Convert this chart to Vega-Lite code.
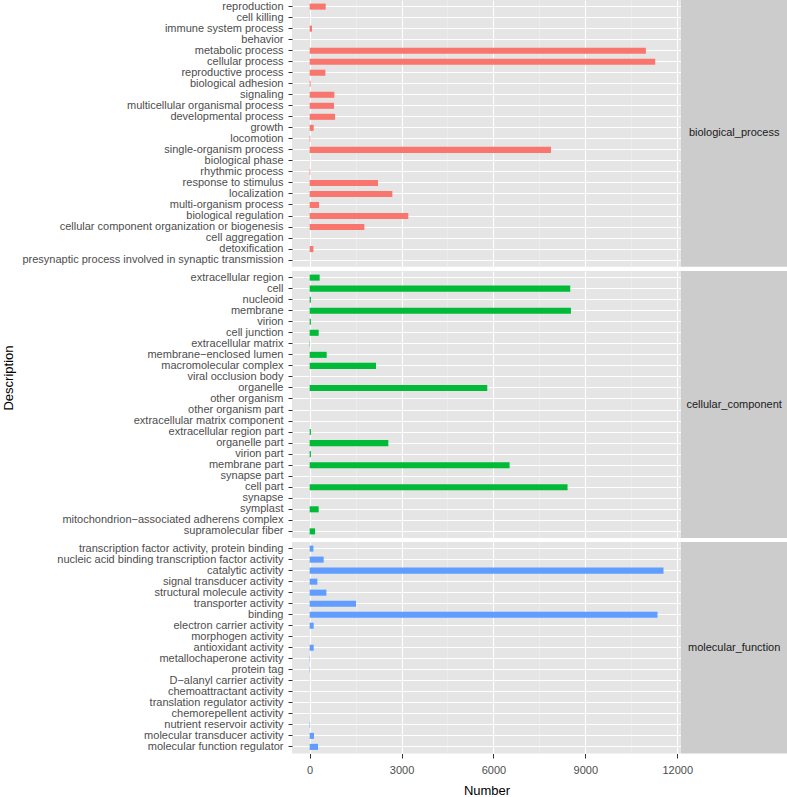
{
  "$schema": "https://vega.github.io/schema/vega-lite/v6.json",
  "padding": {"left": 2, "top": 0, "right": 0, "bottom": 0},
  "autosize": {"type": "pad"},
  "background": "white",
  "config": {
    "font": "Liberation Sans",
    "view": {"stroke": null, "fill": "#E5E5E5"},
    "axis": {"domain": false, "labelFontSize": 11, "labelLimit": 600, "labelColor": "#4D4D4D", "tickColor": "#333333", "titleFontSize": 13, "titleFontWeight": "normal", "titleColor": "#000000"},
    "concat": {"spacing": 0}
  },
  "data": {"values": [
    {"Category": "biological_process", "Description": "reproduction", "Number": 523},
    {"Category": "biological_process", "Description": "cell killing", "Number": 3},
    {"Category": "biological_process", "Description": "immune system process", "Number": 77},
    {"Category": "biological_process", "Description": "behavior", "Number": 2},
    {"Category": "biological_process", "Description": "metabolic process", "Number": 10978},
    {"Category": "biological_process", "Description": "cellular process", "Number": 11282},
    {"Category": "biological_process", "Description": "reproductive process", "Number": 512},
    {"Category": "biological_process", "Description": "biological adhesion", "Number": 30},
    {"Category": "biological_process", "Description": "signaling", "Number": 806},
    {"Category": "biological_process", "Description": "multicellular organismal process", "Number": 795},
    {"Category": "biological_process", "Description": "developmental process", "Number": 828},
    {"Category": "biological_process", "Description": "growth", "Number": 131},
    {"Category": "biological_process", "Description": "locomotion", "Number": 20},
    {"Category": "biological_process", "Description": "single-organism process", "Number": 7878},
    {"Category": "biological_process", "Description": "biological phase", "Number": 1},
    {"Category": "biological_process", "Description": "rhythmic process", "Number": 20},
    {"Category": "biological_process", "Description": "response to stimulus", "Number": 2232},
    {"Category": "biological_process", "Description": "localization", "Number": 2699},
    {"Category": "biological_process", "Description": "multi-organism process", "Number": 306},
    {"Category": "biological_process", "Description": "biological regulation", "Number": 3221},
    {"Category": "biological_process", "Description": "cellular component organization or biogenesis", "Number": 1785},
    {"Category": "biological_process", "Description": "cell aggregation", "Number": 1},
    {"Category": "biological_process", "Description": "detoxification", "Number": 121},
    {"Category": "biological_process", "Description": "presynaptic process involved in synaptic transmission", "Number": 1},
    {"Category": "cellular_component", "Description": "extracellular region", "Number": 326},
    {"Category": "cellular_component", "Description": "cell", "Number": 8508},
    {"Category": "cellular_component", "Description": "nucleoid", "Number": 40},
    {"Category": "cellular_component", "Description": "membrane", "Number": 8530},
    {"Category": "cellular_component", "Description": "virion", "Number": 40},
    {"Category": "cellular_component", "Description": "cell junction", "Number": 294},
    {"Category": "cellular_component", "Description": "extracellular matrix", "Number": 10},
    {"Category": "cellular_component", "Description": "membrane−enclosed lumen", "Number": 555},
    {"Category": "cellular_component", "Description": "macromolecular complex", "Number": 2166},
    {"Category": "cellular_component", "Description": "viral occlusion body", "Number": 1},
    {"Category": "cellular_component", "Description": "organelle", "Number": 5799},
    {"Category": "cellular_component", "Description": "other organism", "Number": 1},
    {"Category": "cellular_component", "Description": "other organism part", "Number": 1},
    {"Category": "cellular_component", "Description": "extracellular matrix component", "Number": 1},
    {"Category": "cellular_component", "Description": "extracellular region part", "Number": 40},
    {"Category": "cellular_component", "Description": "organelle part", "Number": 2568},
    {"Category": "cellular_component", "Description": "virion part", "Number": 40},
    {"Category": "cellular_component", "Description": "membrane part", "Number": 6527},
    {"Category": "cellular_component", "Description": "synapse part", "Number": 1},
    {"Category": "cellular_component", "Description": "cell part", "Number": 8420},
    {"Category": "cellular_component", "Description": "synapse", "Number": 1},
    {"Category": "cellular_component", "Description": "symplast", "Number": 294},
    {"Category": "cellular_component", "Description": "mitochondrion−associated adherens complex", "Number": 1},
    {"Category": "cellular_component", "Description": "supramolecular fiber", "Number": 176},
    {"Category": "molecular_function", "Description": "transcription factor activity, protein binding", "Number": 121},
    {"Category": "molecular_function", "Description": "nucleic acid binding transcription factor activity", "Number": 457},
    {"Category": "molecular_function", "Description": "catalytic activity", "Number": 11553},
    {"Category": "molecular_function", "Description": "signal transducer activity", "Number": 251},
    {"Category": "molecular_function", "Description": "structural molecule activity", "Number": 545},
    {"Category": "molecular_function", "Description": "transporter activity", "Number": 1514},
    {"Category": "molecular_function", "Description": "binding", "Number": 11357},
    {"Category": "molecular_function", "Description": "electron carrier activity", "Number": 131},
    {"Category": "molecular_function", "Description": "morphogen activity", "Number": 1},
    {"Category": "molecular_function", "Description": "antioxidant activity", "Number": 131},
    {"Category": "molecular_function", "Description": "metallochaperone activity", "Number": 10},
    {"Category": "molecular_function", "Description": "protein tag", "Number": 10},
    {"Category": "molecular_function", "Description": "D−alanyl carrier activity", "Number": 1},
    {"Category": "molecular_function", "Description": "chemoattractant activity", "Number": 1},
    {"Category": "molecular_function", "Description": "translation regulator activity", "Number": 1},
    {"Category": "molecular_function", "Description": "chemorepellent activity", "Number": 1},
    {"Category": "molecular_function", "Description": "nutrient reservoir activity", "Number": 15},
    {"Category": "molecular_function", "Description": "molecular transducer activity", "Number": 142},
    {"Category": "molecular_function", "Description": "molecular function regulator", "Number": 273}
  ]},
  "columns": 2,
  "bounds": "flush",
  "spacing": {"row": 4, "column": 0},
  "concat": [
    {
      "width": 389, "height": 266.7,
      "transform": [{"filter": "datum.Category === 'biological_process'"}],
      "mark": {"type": "bar"},
      "encoding": {
        "y": {"field": "Description", "type": "nominal", "sort": null,
          "scale": {"paddingInner": 0.45, "paddingOuter": 0.325},
          "axis": {"title": "Description", "titleX": -276.7, "titleY": 377.5, "tickSize": 4, "labelPadding": 5, "grid": true, "gridColor": "#FFFFFF", "gridWidth": 1.1}},
        "x": {"field": "Number", "type": "quantitative",
          "scale": {"domain": [-577, 12124], "nice": false},
          "axis": {"title": null, "labels": false, "ticks": false,
            "values": [0, 1500, 3000, 4500, 6000, 7500, 9000, 10500, 12000],
            "grid": true,
            "gridColor": {"condition": {"test": "datum.value % 3000 === 0", "value": "#FFFFFF"}, "value": "#F2F2F2"},
            "gridWidth": {"condition": {"test": "datum.value % 3000 === 0", "value": 1.1}, "value": 0.5}}},
        "color": {"field": "Category", "type": "nominal", "legend": null,
          "scale": {"domain": ["biological_process", "cellular_component", "molecular_function"], "range": ["#F8766D", "#00BA38", "#619CFF"]}}
      }
    },
    {
      "width": 106.3, "height": 266.7,
      "view": {"fill": "#CCCCCC", "stroke": null},
      "transform": [{"filter": "datum.Category === 'biological_process'"}, {"aggregate": [{"op": "count", "as": "n"}], "groupby": ["Category"]}],
      "mark": {"type": "text", "fontSize": 11, "color": "#1A1A1A"},
      "encoding": {"text": {"field": "Category", "type": "nominal"}}
    },
    {
      "width": 389, "height": 267,
      "transform": [{"filter": "datum.Category === 'cellular_component'"}],
      "mark": {"type": "bar"},
      "encoding": {
        "y": {"field": "Description", "type": "nominal", "sort": null,
          "scale": {"paddingInner": 0.45, "paddingOuter": 0.325},
          "axis": {"title": null, "tickSize": 4, "labelPadding": 5, "grid": true, "gridColor": "#FFFFFF", "gridWidth": 1.1}},
        "x": {"field": "Number", "type": "quantitative",
          "scale": {"domain": [-577, 12124], "nice": false},
          "axis": {"title": null, "labels": false, "ticks": false,
            "values": [0, 1500, 3000, 4500, 6000, 7500, 9000, 10500, 12000],
            "grid": true,
            "gridColor": {"condition": {"test": "datum.value % 3000 === 0", "value": "#FFFFFF"}, "value": "#F2F2F2"},
            "gridWidth": {"condition": {"test": "datum.value % 3000 === 0", "value": 1.1}, "value": 0.5}}},
        "color": {"field": "Category", "type": "nominal", "legend": null,
          "scale": {"domain": ["biological_process", "cellular_component", "molecular_function"], "range": ["#F8766D", "#00BA38", "#619CFF"]}}
      }
    },
    {
      "width": 106.3, "height": 267,
      "view": {"fill": "#CCCCCC", "stroke": null},
      "transform": [{"filter": "datum.Category === 'cellular_component'"}, {"aggregate": [{"op": "count", "as": "n"}], "groupby": ["Category"]}],
      "mark": {"type": "text", "fontSize": 11, "color": "#1A1A1A"},
      "encoding": {"text": {"field": "Category", "type": "nominal"}}
    },
    {
      "width": 389, "height": 211.5,
      "transform": [{"filter": "datum.Category === 'molecular_function'"}],
      "mark": {"type": "bar"},
      "encoding": {
        "y": {"field": "Description", "type": "nominal", "sort": null,
          "scale": {"paddingInner": 0.45, "paddingOuter": 0.325},
          "axis": {"title": null, "tickSize": 4, "labelPadding": 5, "grid": true, "gridColor": "#FFFFFF", "gridWidth": 1.1}},
        "x": {"field": "Number", "type": "quantitative",
          "scale": {"domain": [-577, 12124], "nice": false},
          "axis": {"title": "Number", "format": "d", "tickSize": 4.5, "labelPadding": 6, "titlePadding": 9,
            "values": [0, 1500, 3000, 4500, 6000, 7500, 9000, 10500, 12000],
            "labelExpr": "datum.value % 3000 === 0 ? datum.label : ''",
            "tickOpacity": {"condition": {"test": "datum.value % 3000 === 0", "value": 1}, "value": 0},
            "grid": true,
            "gridColor": {"condition": {"test": "datum.value % 3000 === 0", "value": "#FFFFFF"}, "value": "#F2F2F2"},
            "gridWidth": {"condition": {"test": "datum.value % 3000 === 0", "value": 1.1}, "value": 0.5}}},
        "color": {"field": "Category", "type": "nominal", "legend": null,
          "scale": {"domain": ["biological_process", "cellular_component", "molecular_function"], "range": ["#F8766D", "#00BA38", "#619CFF"]}}
      }
    },
    {
      "width": 106.3, "height": 211.5,
      "view": {"fill": "#CCCCCC", "stroke": null},
      "transform": [{"filter": "datum.Category === 'molecular_function'"}, {"aggregate": [{"op": "count", "as": "n"}], "groupby": ["Category"]}],
      "mark": {"type": "text", "fontSize": 11, "color": "#1A1A1A"},
      "encoding": {"text": {"field": "Category", "type": "nominal"}}
    }
  ]
}
